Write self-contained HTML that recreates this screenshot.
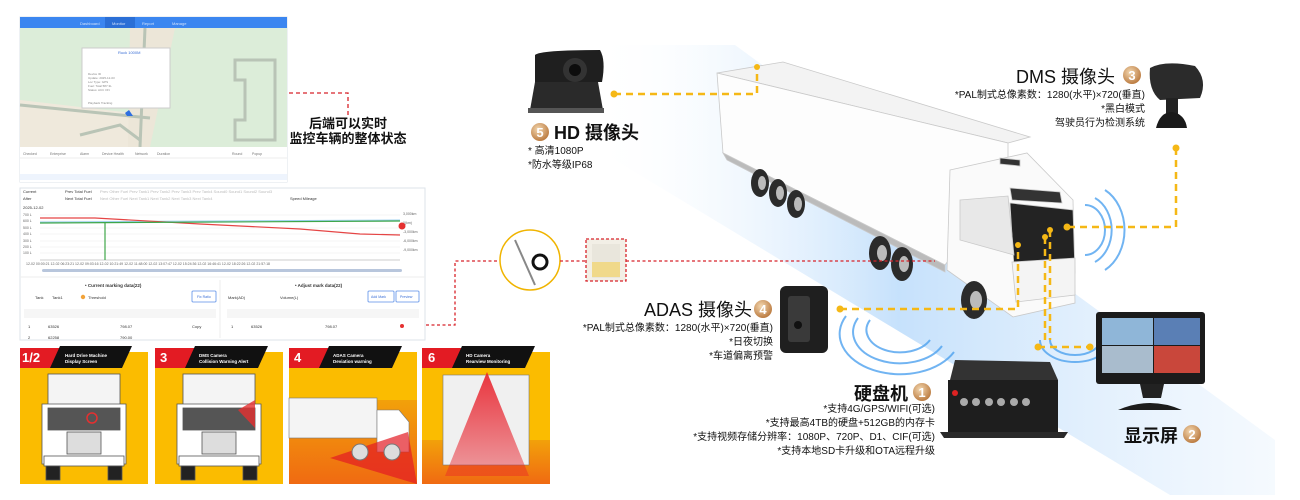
<!DOCTYPE html>
<html><head><meta charset="utf-8"><style>
html,body{margin:0;padding:0;background:#fff;}
body{width:1300px;height:500px;overflow:hidden;position:relative;font-family:"Liberation Sans","Noto Sans CJK SC",sans-serif;}
svg{position:absolute;left:0;top:0}
</style></head><body>
<svg width="1300" height="500" viewBox="0 0 1300 500" xmlns="http://www.w3.org/2000/svg" font-family="Liberation Sans, Noto Sans CJK SC, sans-serif">
<defs>
<linearGradient id="beam" x1="0" y1="0" x2="1" y2="0">
<stop offset="0" stop-color="#ffffff" stop-opacity="0"/>
<stop offset="0.45" stop-color="#bcdcfb"/>
<stop offset="1" stop-color="#d8eafc" stop-opacity="0.3"/>
</linearGradient>
<radialGradient id="badge" cx="0.4" cy="0.35" r="0.7">
<stop offset="0" stop-color="#f3d7b0"/><stop offset="1" stop-color="#b8763a"/>
</radialGradient>
<linearGradient id="cone" x1="0" y1="0" x2="0" y2="1"><stop offset="0" stop-color="#e8202a" stop-opacity="0.9"/><stop offset="1" stop-color="#e8202a" stop-opacity="0.4"/></linearGradient>
<linearGradient id="grd" x1="0" y1="0" x2="0" y2="1"><stop offset="0" stop-color="#f2a10a"/><stop offset="1" stop-color="#f06a12"/></linearGradient>
</defs>

<!-- ===== Map panel ===== -->
<rect x="20" y="17" width="267" height="165" fill="#fff" stroke="#dde3ea"/>
<rect x="20" y="17" width="267" height="11" fill="#3b86f0"/>
<rect x="105" y="17" width="30" height="11" fill="#2b6fd6"/>
<g fill="#cfe0fb" font-size="4"><text x="80" y="25">Dashboard</text><text x="112" y="25">Monitor</text><text x="142" y="25">Report</text><text x="172" y="25">Manage</text></g>
<rect x="20" y="28" width="267" height="119" fill="#dcedd9"/>
<path d="M20 100 L150 115 L150 147 L20 147Z" fill="#efe9dc"/>
<path d="M130 28 L175 28 L150 147 L128 147Z" fill="#ece6d8"/>
<path d="M235 60 h40 v80 h-40 v-20 h10 v-40 h-10z M20 105 L150 118 M145 28 L140 147 M80 135 l40 -10 l20 15" fill="none" stroke="#b9c4b6" stroke-width="3"/>
<rect x="82" y="48" width="88" height="60" fill="#fff" stroke="#ccc"/>
<text x="118" y="54" font-size="4" fill="#3b6fd6">Ruck 1000M</text>
<g fill="#888" font-size="3"><text x="88" y="75">Device ID</text><text x="88" y="79">Update: 2025-12-03</text><text x="88" y="83">Loc Type: GPS</text><text x="88" y="87">Fuel: Total 587.3L</text><text x="88" y="91">Status: ACC ON</text><text x="88" y="104">Playback  Tracking</text></g>
<path d="M125 113 l4 -3 l4 6 h-6z" fill="#2f6fe0"/>
<rect x="20" y="147" width="267" height="35" fill="#fff"/>
<line x1="20" y1="158" x2="287" y2="158" stroke="#eee"/>
<rect x="20" y="174" width="267" height="6" fill="#eef4fd"/>
<g fill="#777" font-size="3.5"><text x="23" y="155">Checked</text><text x="50" y="155">Enterprise</text><text x="80" y="155">Alarm</text><text x="102" y="155">Device Health</text><text x="135" y="155">Network</text><text x="157" y="155">Duration</text><text x="232" y="155">Round</text><text x="252" y="155">Popup</text></g>

<path d="M289 93 H348 V115" fill="none" stroke="#d8232a" stroke-width="1.3" stroke-dasharray="4,3"/>
<text x="348" y="128" font-size="13" font-weight="bold" text-anchor="middle" fill="#111">后端可以实时</text>
<text x="348" y="143" font-size="13" font-weight="bold" text-anchor="middle" fill="#111">监控车辆的整体状态</text>

<!-- ===== Chart panel ===== -->
<rect x="20" y="188" width="405" height="152" fill="#fff" stroke="#dde3ea"/>
<g font-size="4" fill="#333"><text x="23" y="193">Current</text><text x="23" y="200">After</text><text x="23" y="209">2025-12-02</text>
<text x="65" y="193">Prev Total Fuel</text><text x="65" y="200">Next Total Fuel</text></g>
<g font-size="4" fill="#bbb"><text x="100" y="193">Prev Other Fuel   Prev Tank1   Prev Tank2   Prev Tank3   Prev Tank4   Sound0   Sound1   Sound2   Sound3</text>
<text x="100" y="200">Next Other Fuel   Next Tank1   Next Tank2   Next Tank3   Next Tank4</text></g>
<text x="290" y="200" font-size="4" fill="#333">Speed   Mileage</text>
<g stroke="#eee" stroke-width="0.6"><line x1="40" y1="215" x2="400" y2="215"/><line x1="40" y1="221" x2="400" y2="221"/><line x1="40" y1="228" x2="400" y2="228"/><line x1="40" y1="234" x2="400" y2="234"/><line x1="40" y1="241" x2="400" y2="241"/><line x1="40" y1="247" x2="400" y2="247"/><line x1="40" y1="253" x2="400" y2="253"/></g>
<line x1="40" y1="260" x2="400" y2="260" stroke="#999" stroke-width="0.6"/>
<g font-size="3.5" fill="#666"><text x="23" y="216">700 L</text><text x="23" y="222">600 L</text><text x="23" y="229">500 L</text><text x="23" y="235">400 L</text><text x="23" y="242">300 L</text><text x="23" y="248">200 L</text><text x="23" y="254">100 L</text>
<text x="26" y="265">12-02 00:00:21    12-02 06:23:21    12-02 09:03:16    12-02 10:21:49    12-02 11:48:00    12-02 13:07:47    12-02 15:24:36    12-02 16:46:41    12-02 18:22:26    12-02 21:57:18</text>
<text x="403" y="215">3,000km</text><text x="403" y="224">0(km)</text><text x="403" y="233">-3,000km</text><text x="403" y="242">-6,000km</text><text x="403" y="251">-9,000km</text></g>
<line x1="40" y1="222" x2="400" y2="220" stroke="#9cd0ef" stroke-width="1"/>
<polyline points="40,218 95,218 200,224 300,229 360,234 400,235" fill="none" stroke="#e54545" stroke-width="1.2"/>
<polyline points="40,223 400,221" fill="none" stroke="#3ea64a" stroke-width="1.2"/>
<line x1="105" y1="223" x2="105" y2="260" stroke="#3ea64a" stroke-width="1.2"/>
<circle cx="402" cy="226" r="3.5" fill="#e53030"/>
<rect x="42" y="269" width="360" height="3" rx="1.5" fill="#b8c6dc"/>
<line x1="20" y1="277" x2="425" y2="277" stroke="#eee"/>
<line x1="220" y1="280" x2="220" y2="338" stroke="#eee"/>
<g font-size="4.5" font-weight="bold" fill="#333"><text x="85" y="287">• Current marking data(22)</text><text x="295" y="287">• Adjust mark data(22)</text></g>
<g font-size="4" fill="#333"><text x="35" y="299">Tank</text><text x="52" y="299">Tank1</text><text x="88" y="299">Threshold</text><text x="228" y="299">Mark(AD)</text><text x="280" y="299">Volume(L)</text>
<text x="26" y="315">Index</text><text x="48" y="315">AD</text><text x="120" y="315">Volume</text><text x="192" y="315">Action</text>
<text x="229" y="315">Index</text><text x="251" y="315">AD</text><text x="325" y="315">Volume(L)</text><text x="398" y="315">Action</text>
<text x="28" y="328">1</text><text x="48" y="328">63526</text><text x="120" y="328">798.07</text><text x="192" y="328">Copy</text>
<text x="231" y="328">1</text><text x="251" y="328">63526</text><text x="325" y="328">798.07</text>
<text x="28" y="339">2</text><text x="48" y="339">62258</text><text x="120" y="339">790.00</text></g>
<circle cx="83" cy="297" r="2.2" fill="#f2a33a"/>
<g fill="none" stroke="#5b8fe8" stroke-width="0.8"><rect x="192" y="291" width="24" height="11" rx="1"/><rect x="368" y="291" width="26" height="11" rx="1"/><rect x="396" y="291" width="23" height="11" rx="1"/></g>
<g font-size="3.5" fill="#3b6fd6"><text x="197" y="298">Fix Ratio</text><text x="371" y="298">Add Mark</text><text x="400" y="298">Preview</text></g>
<rect x="24" y="309" width="192" height="9" fill="#f6f6f6"/><rect x="227" y="309" width="192" height="9" fill="#f6f6f6"/>
<circle cx="402" cy="326" r="2" fill="#e53030"/>

<path d="M426 325 H455 V261 H500" fill="none" stroke="#d8232a" stroke-width="1.3" stroke-dasharray="3,2.5"/>

<!-- ===== Yellow cards ===== -->
<rect x="20" y="352" width="128" height="132" fill="#fbbc00"/>
<rect x="155" y="352" width="128" height="132" fill="#fbbc00"/>
<rect x="289" y="352" width="128" height="132" fill="#fbbc00"/>
<rect x="422" y="352" width="128" height="132" fill="#fbbc00"/>
<g>
<path d="M20 348 H75 L65 368 H20Z" fill="#e31b23"/><path d="M60 346 H132 L122 368 H50Z" fill="#111"/>
<path d="M155 348 H210 L200 368 H155Z" fill="#e31b23"/><path d="M195 346 H268 L258 368 H185Z" fill="#111"/>
<path d="M289 348 H344 L334 368 H289Z" fill="#e31b23"/><path d="M329 346 H402 L392 368 H319Z" fill="#111"/>
<path d="M422 348 H477 L467 368 H422Z" fill="#e31b23"/><path d="M462 346 H535 L525 368 H452Z" fill="#111"/>
<g fill="#fff" font-weight="bold"><text x="22" y="362" font-size="13">1/2</text><text x="160" y="362" font-size="13">3</text><text x="294" y="362" font-size="13">4</text><text x="428" y="362" font-size="13">6</text>
<g font-size="4.5"><text x="65" y="357">Hard Drive Machine</text><text x="65" y="363">Display Screen</text>
<text x="199" y="357">DMS Camera</text><text x="199" y="363">Collision Warning Alert</text>
<text x="333" y="357">ADAS Camera</text><text x="333" y="363">Deviation warning</text>
<text x="466" y="357">HD Camera</text><text x="466" y="363">Rearview Monitoring</text></g></g>
</g>
<g stroke="#555" stroke-width="0.8">
<rect x="48" y="374" width="72" height="38" fill="#f4f4f4"/>
<path d="M42 404 h84 v60 h-84z" fill="#fff"/><rect x="48" y="408" width="72" height="22" fill="#555"/>
<rect x="67" y="432" width="34" height="22" fill="#ddd"/><rect x="44" y="456" width="80" height="10" fill="#fff"/>
<rect x="46" y="466" width="14" height="14" fill="#222"/><rect x="108" y="466" width="14" height="14" fill="#222"/>
<rect x="183" y="374" width="72" height="38" fill="#f4f4f4"/>
<path d="M177 404 h84 v60 h-84z" fill="#fff"/><rect x="183" y="408" width="72" height="22" fill="#555"/>
<rect x="202" y="432" width="34" height="22" fill="#ddd"/><rect x="179" y="456" width="80" height="10" fill="#fff"/>
<rect x="181" y="466" width="14" height="14" fill="#222"/><rect x="243" y="466" width="14" height="14" fill="#222"/>
</g>
<circle cx="92" cy="418" r="5" fill="none" stroke="#e53030" stroke-width="1.5"/>
<path d="M238 410 L255 400 L255 428 Z" fill="#e53030" opacity="0.8"/>
<rect x="289" y="400" width="128" height="84" fill="url(#grd)"/>
<rect x="289" y="398" width="88" height="40" fill="#f4f4f4" stroke="#777" stroke-width="0.6"/>
<path d="M377 410 h22 l10 12 v30 h-32z" fill="#fff" stroke="#777" stroke-width="0.6"/>
<path d="M408 432 L330 458 L417 484 Z" fill="#e31b23" opacity="0.7"/>
<circle cx="360" cy="452" r="8" fill="#ddd" stroke="#777"/><circle cx="392" cy="452" r="8" fill="#ddd" stroke="#777"/>
<rect x="422" y="440" width="128" height="44" fill="url(#grd)"/>
<rect x="443" y="375" width="86" height="90" fill="#f0f0f0" stroke="#777" stroke-width="0.6"/>
<path d="M487 372 L445 476 L529 476 Z" fill="url(#cone)"/>

<!-- ===== right side ===== -->
<polygon points="590,45 735,45 1275,440 1275,495 1170,495 590,145" fill="url(#beam)" opacity="0.85"/>

<g fill="none" stroke="#4ea2ef" stroke-width="2" opacity="0.8">
<path d="M1085 205 a20 25 0 0 1 0 50"/><path d="M1095 198 a28 35 0 0 1 0 64"/><path d="M1105 190 a36 45 0 0 1 0 80"/>
<path d="M870 320 a30 20 0 0 0 60 20"/><path d="M858 318 a42 28 0 0 0 84 28"/><path d="M846 316 a54 36 0 0 0 108 36"/>
<path d="M1050 340 a25 15 0 0 0 50 0"/><path d="M1040 340 a35 22 0 0 0 70 0"/>
</g>

<!-- truck -->
<g stroke="#c9c9c9" stroke-width="0.8">
<polygon points="717,73 783,62 1030,137 1008,143" fill="#f3f3f3"/>
<polygon points="717,73 1008,143 1008,180 945,265 723,153" fill="#fdfdfd"/>
<polygon points="723,153 945,265 945,272 727,160" fill="#bbb"/>
<polygon points="950,170 1027,153 1073,200 1075,303 1013,317 947,270" fill="#fafafa"/>
<polygon points="1010,203 1073,210 1075,273 1015,283" fill="#232323"/>
<polygon points="1012,262 1075,258 1075,295 1016,302" fill="#f4f4f4"/>
<polygon points="960,200 1008,196 1014,255 960,240" fill="#e8e8e8"/>
<polygon points="1010,188 1060,192 1062,203 1012,200" fill="#333"/>
<polygon points="1000,158 1020,160 1020,166 1000,164" fill="#333"/>
</g>
<g fill="#2b2b2b"><ellipse cx="760" cy="183" rx="9" ry="14"/><ellipse cx="778" cy="193" rx="9" ry="14"/><ellipse cx="796" cy="204" rx="9" ry="14"/>
<ellipse cx="880" cy="253" rx="11" ry="17"/><ellipse cx="902" cy="264" rx="11" ry="17"/><ellipse cx="974" cy="300" rx="13" ry="19"/></g>
<g fill="#bbb"><ellipse cx="762" cy="183" rx="4" ry="7"/><ellipse cx="780" cy="193" rx="4" ry="7"/><ellipse cx="798" cy="204" rx="4" ry="7"/><ellipse cx="882" cy="253" rx="5" ry="8"/><ellipse cx="904" cy="264" rx="5" ry="8"/><ellipse cx="976" cy="300" rx="6" ry="9"/></g>

<g fill="none" stroke="#f5b816" stroke-width="2.5" stroke-dasharray="7,5">
<path d="M614 94 H757 V67"/>
<path d="M1176 148 V227 H1067"/>
<path d="M840 309 H1018 V245"/>
<path d="M1045 237 V340 M1050 230 V340"/>
<path d="M1038 347 H1090"/>
</g>
<g fill="#f5b816"><circle cx="614" cy="94" r="3.5"/><circle cx="757" cy="67" r="3"/><circle cx="1176" cy="148" r="3.5"/><circle cx="1067" cy="227" r="3.5"/><circle cx="840" cy="309" r="3.5"/><circle cx="1018" cy="245" r="3"/><circle cx="1045" cy="237" r="3"/><circle cx="1050" cy="230" r="3"/><circle cx="1038" cy="347" r="3.5"/><circle cx="1090" cy="347" r="3.5"/></g>

<circle cx="530" cy="260" r="30" fill="#fff" stroke="#f0b400" stroke-width="1.5"/>
<line x1="515" y1="240" x2="535" y2="285" stroke="#888" stroke-width="2"/>
<circle cx="540" cy="262" r="7" fill="none" stroke="#111" stroke-width="3"/>
<path d="M560 261 H586 M626 261 H935" stroke="#d8232a" stroke-width="1.3" stroke-dasharray="3,2.5"/>
<rect x="586" y="239" width="40" height="42" fill="#f2efe6" stroke="#d8232a" stroke-width="1.3" stroke-dasharray="3,2"/>
<rect x="592" y="244" width="28" height="34" fill="#e9e6dc"/><rect x="592" y="262" width="28" height="15" fill="#f0d98a"/>

<!-- HD camera -->
<path d="M535 55 Q540 50 600 50 Q606 60 602 82 L535 82Z" fill="#1f1f1f"/>
<circle cx="575" cy="70" r="12" fill="#333"/><circle cx="575" cy="70" r="6" fill="#0d0d0d"/>
<path d="M535 82 L530 110 L603 110 L598 82Z" fill="#2a2a2a"/>
<rect x="528" y="108" width="76" height="5" fill="#555"/>
<circle cx="540" cy="132" r="9" fill="url(#badge)"/><text x="540" y="137" font-size="13" font-weight="bold" fill="#fff" text-anchor="middle">5</text>
<text x="554" y="139" font-size="18" font-weight="bold" fill="#111">HD 摄像头</text>
<text x="528" y="154" font-size="10" fill="#111">* 高清1080P</text>
<text x="528" y="168" font-size="10" fill="#111">*防水等级IP68</text>

<!-- DMS -->
<text x="1115" y="83" font-size="18" fill="#111" text-anchor="end">DMS 摄像头</text>
<circle cx="1132" cy="75" r="9" fill="url(#badge)"/><text x="1132" y="80" font-size="13" font-weight="bold" fill="#fff" text-anchor="middle">3</text>
<g font-size="10" fill="#111" text-anchor="end"><text x="1145" y="98">*PAL制式总像素数：1280(水平)×720(垂直)</text><text x="1145" y="112">*黑白模式</text><text x="1145" y="126">驾驶员行为检测系统</text></g>
<path d="M1150 68 Q1165 60 1195 66 Q1208 80 1200 98 L1160 100 Q1148 90 1150 68Z" fill="#2b2b2b"/>
<rect x="1166" y="98" width="12" height="18" fill="#222"/>
<path d="M1156 128 Q1160 112 1172 112 Q1185 114 1187 128Z" fill="#1a1a1a"/>

<!-- ADAS -->
<text x="752" y="316" font-size="18" fill="#111" text-anchor="end">ADAS 摄像头</text>
<circle cx="763" cy="309" r="9" fill="url(#badge)"/><text x="763" y="314" font-size="13" font-weight="bold" fill="#fff" text-anchor="middle">4</text>
<g font-size="10" fill="#111" text-anchor="end"><text x="773" y="331">*PAL制式总像素数：1280(水平)×720(垂直)</text><text x="773" y="345">*日夜切换</text><text x="773" y="359">*车道偏离预警</text></g>
<rect x="780" y="286" width="48" height="67" rx="6" fill="#1f1f1f"/>
<rect x="788" y="296" width="22" height="46" rx="3" fill="#3a3a3a"/><circle cx="798" cy="325" r="4" fill="#111"/>

<!-- DVR -->
<path d="M955 360 L1050 362 L1058 380 L950 380Z" fill="#333"/>
<rect x="948" y="380" width="110" height="52" fill="#1e1e1e"/>
<path d="M940 432 h128 l-4 6 h-120z" fill="#2a2a2a"/>
<g fill="#aaa"><circle cx="964" cy="402" r="4"/><circle cx="976" cy="402" r="4"/><circle cx="989" cy="402" r="4"/><circle cx="1001" cy="402" r="4"/><circle cx="1014" cy="402" r="4"/><circle cx="1026" cy="402" r="4"/></g>
<circle cx="955" cy="393" r="3" fill="#d22"/>
<text x="908" y="400" font-size="18" font-weight="bold" fill="#111" text-anchor="end">硬盘机</text>
<circle cx="922" cy="392" r="9" fill="url(#badge)"/><text x="922" y="397" font-size="13" font-weight="bold" fill="#fff" text-anchor="middle">1</text>
<g font-size="10" fill="#111" text-anchor="end"><text x="935" y="412">*支持4G/GPS/WIFI(可选)</text><text x="935" y="426">*支持最高4TB的硬盘+512GB的内存卡</text><text x="935" y="440">*支持视频存储分辨率：1080P、720P、D1、CIF(可选)</text><text x="935" y="454">*支持本地SD卡升级和OTA远程升级</text></g>

<!-- Monitor -->
<rect x="1096" y="312" width="109" height="72" rx="3" fill="#1b1b1b"/>
<rect x="1102" y="318" width="51" height="27" fill="#8fb6d8"/><rect x="1154" y="318" width="46" height="27" fill="#5a7fb5"/>
<rect x="1102" y="346" width="51" height="27" fill="#a9bccd"/><rect x="1154" y="346" width="46" height="27" fill="#c9473b"/>
<path d="M1140 384 h24 l-3 14 h-18z" fill="#222"/><path d="M1118 410 q32 -14 64 0z" fill="#1c1c1c"/>
<text x="1178" y="442" font-size="18" font-weight="bold" fill="#111" text-anchor="end">显示屏</text>
<circle cx="1192" cy="434" r="9" fill="url(#badge)"/><text x="1192" y="439" font-size="13" font-weight="bold" fill="#fff" text-anchor="middle">2</text>
</svg>
</body></html>
